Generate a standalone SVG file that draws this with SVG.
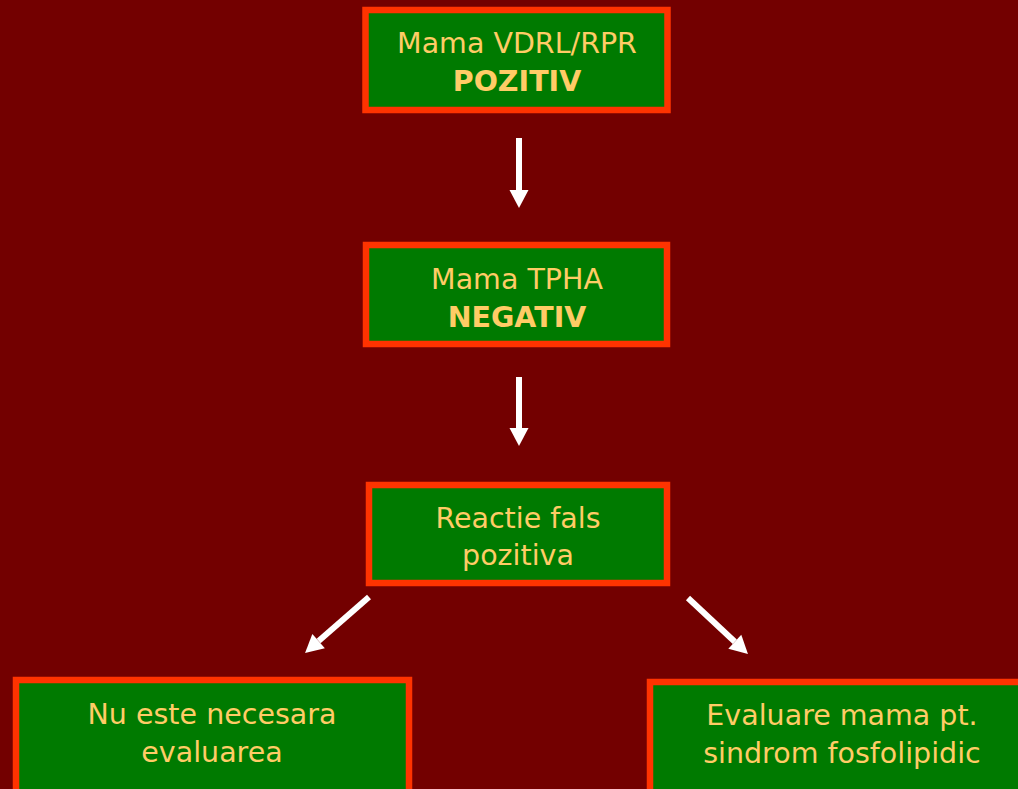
<svg xmlns="http://www.w3.org/2000/svg" width="1018" height="789" viewBox="0 0 1018 789">
<style>
.box{fill:#007A00;stroke:#FF3300;stroke-width:6.5}
.t{font-family:"DejaVu Sans","Liberation Sans",sans-serif;font-size:28.5px;fill:#FFCC66;text-anchor:middle}
.b{font-weight:bold}
.arr{stroke:#FFFFFF;stroke-width:6;fill:none;marker-end:url(#ah)}
</style>
<defs>
<marker id="ah" markerUnits="userSpaceOnUse" markerWidth="20" markerHeight="22" refX="0" refY="10" orient="auto" viewBox="0 0 20 20" overflow="visible">
<path d="M0,0.5 L18,10 L0,19.5 z" fill="#FFFFFF"/>
</marker>
</defs>
<rect width="1018" height="789" fill="#730000"/>
<g id="n1">
<rect class="box" x="365.5" y="10" width="302" height="100"/>
<text class="t" x="517" y="53">Mama VDRL/RPR</text>
<text class="t b" x="517" y="91">POZITIV</text>
</g>
<g id="n2">
<rect class="box" x="366" y="245" width="301" height="99"/>
<text class="t" x="517" y="289">Mama TPHA</text>
<text class="t b" x="517" y="327">NEGATIV</text>
</g>
<g id="n3">
<rect class="box" x="369" y="485" width="298" height="98"/>
<text class="t" x="518" y="528">Reactie fals</text>
<text class="t" x="518" y="565">pozitiva</text>
</g>
<g id="n4">
<rect class="box" x="16" y="680" width="393" height="130"/>
<text class="t" x="212" y="724">Nu este necesara</text>
<text class="t" x="212" y="762">evaluarea</text>
</g>
<g id="n5">
<rect class="box" x="650" y="682" width="392" height="130"/>
<text class="t" x="842" y="725">Evaluare mama pt.</text>
<text class="t" x="842" y="763">sindrom fosfolipidic</text>
</g>
<g id="connectors">
<line class="arr" x1="519" y1="138" x2="519" y2="190"/>
<line class="arr" x1="519" y1="377" x2="519" y2="428"/>
<line class="arr" x1="369" y1="597" x2="318.6" y2="641.1"/>
<line class="arr" x1="688" y1="598" x2="734.8" y2="641.7"/>
</g>
</svg>
